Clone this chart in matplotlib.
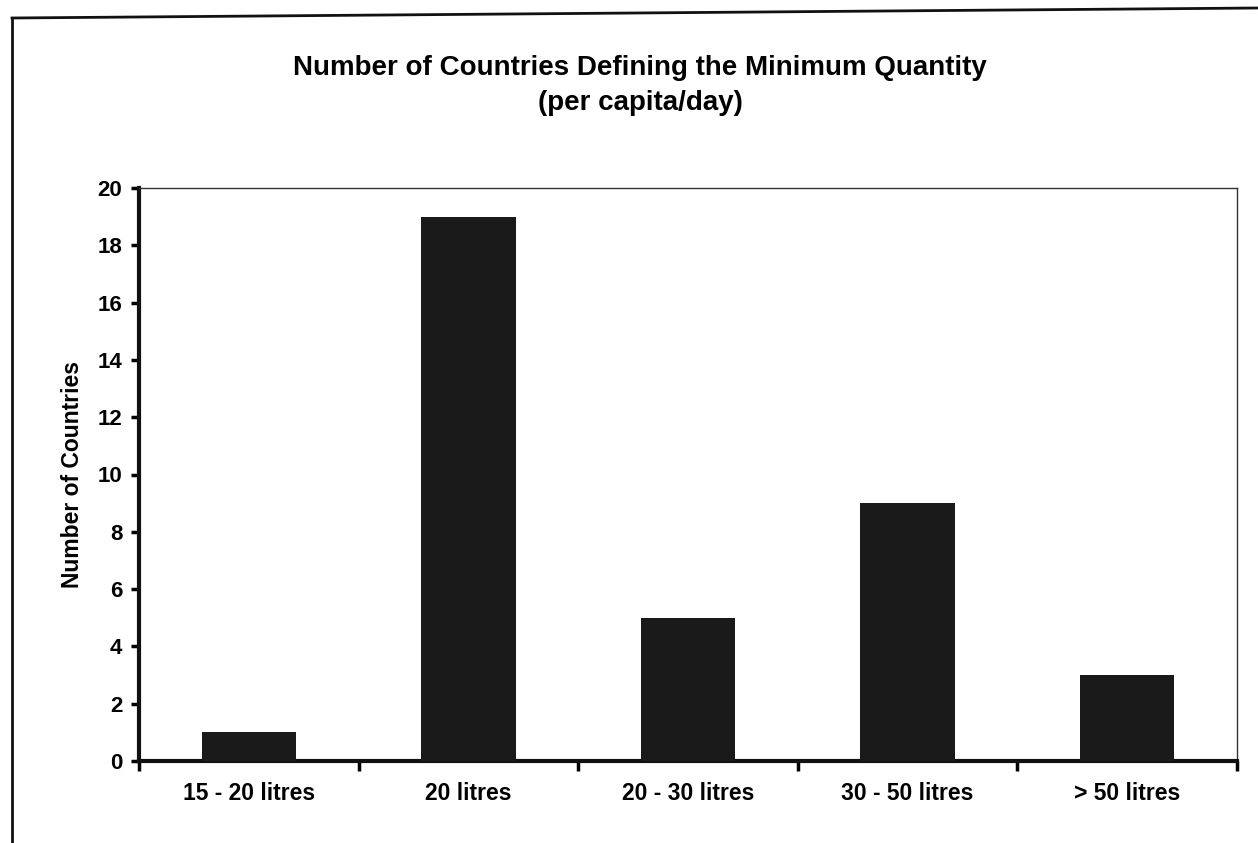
import matplotlib
matplotlib.use("Agg")
import matplotlib.pyplot as plt
from matplotlib.lines import Line2D

plt.rcParams['font.family'] = ['Liberation Sans', 'DejaVu Sans']

categories = ["15 - 20 litres", "20 litres", "20 - 30 litres", "30 - 50 litres", "> 50 litres"]
counts = [1, 19, 5, 9, 3]
y_ticks = [0, 2, 4, 6, 8, 10, 12, 14, 16, 18, 20]

W, H = 1258, 843
fig = plt.figure(figsize=(W / 100, H / 100), dpi=100)
fig.patch.set_facecolor("white")

# plot area in pixel coordinates
left, right, top, bottom = 139, 1237, 188, 761
ax = fig.add_axes([left / W, 1 - bottom / H, (right - left) / W, (bottom - top) / H])

x = list(range(len(categories)))
ax.bar(x, counts, width=0.43, color="#1a1a1a", zorder=3)

ax.set_xlim(-0.5, len(categories) - 0.5)
ax.set_ylim(0, 20)
ax.set_yticks(y_ticks)
ax.set_yticklabels([str(v) for v in y_ticks], fontsize=16, fontweight="bold")

# category labels between boundary ticks
ax.set_xticks([i - 0.5 for i in range(len(categories) + 1)])
ax.set_xticklabels([])
ax.set_xticks(x, minor=True)
ax.set_xticklabels(categories, minor=True, fontsize=16.5, fontweight="bold")
ax.tick_params(axis="x", which="minor", length=0, pad=15)
ax.tick_params(axis="x", which="major", length=7, width=2.5, direction="out")
ax.tick_params(axis="y", length=6, width=2.5, direction="out", pad=6)

for side in ("left", "bottom"):
    ax.spines[side].set_linewidth(3)
    ax.spines[side].set_color("#111111")
for side in ("top", "right"):
    ax.spines[side].set_linewidth(1)
    ax.spines[side].set_color("#333333")

ax.set_ylabel("Number of Countries", fontsize=16.5, fontweight="bold", labelpad=10)

fig.text(640 / W, 1 - 68 / H, "Number of Countries Defining the Minimum Quantity",
         ha="center", va="center", fontsize=20, fontweight="bold")
fig.text(640 / W, 1 - 103 / H, "(per capita/day)",
         ha="center", va="center", fontsize=20, fontweight="bold")

# outer chart frame
fig.add_artist(Line2D([12 / W, 1.0], [1 - 18 / H, 1 - 8 / H], transform=fig.transFigure,
                      color="#111111", linewidth=2))
fig.add_artist(Line2D([12 / W, 12 / W], [1 - 18 / H, 0.0], transform=fig.transFigure,
                      color="#111111", linewidth=2))

fig.savefig("out.png", dpi=100, facecolor="white")
